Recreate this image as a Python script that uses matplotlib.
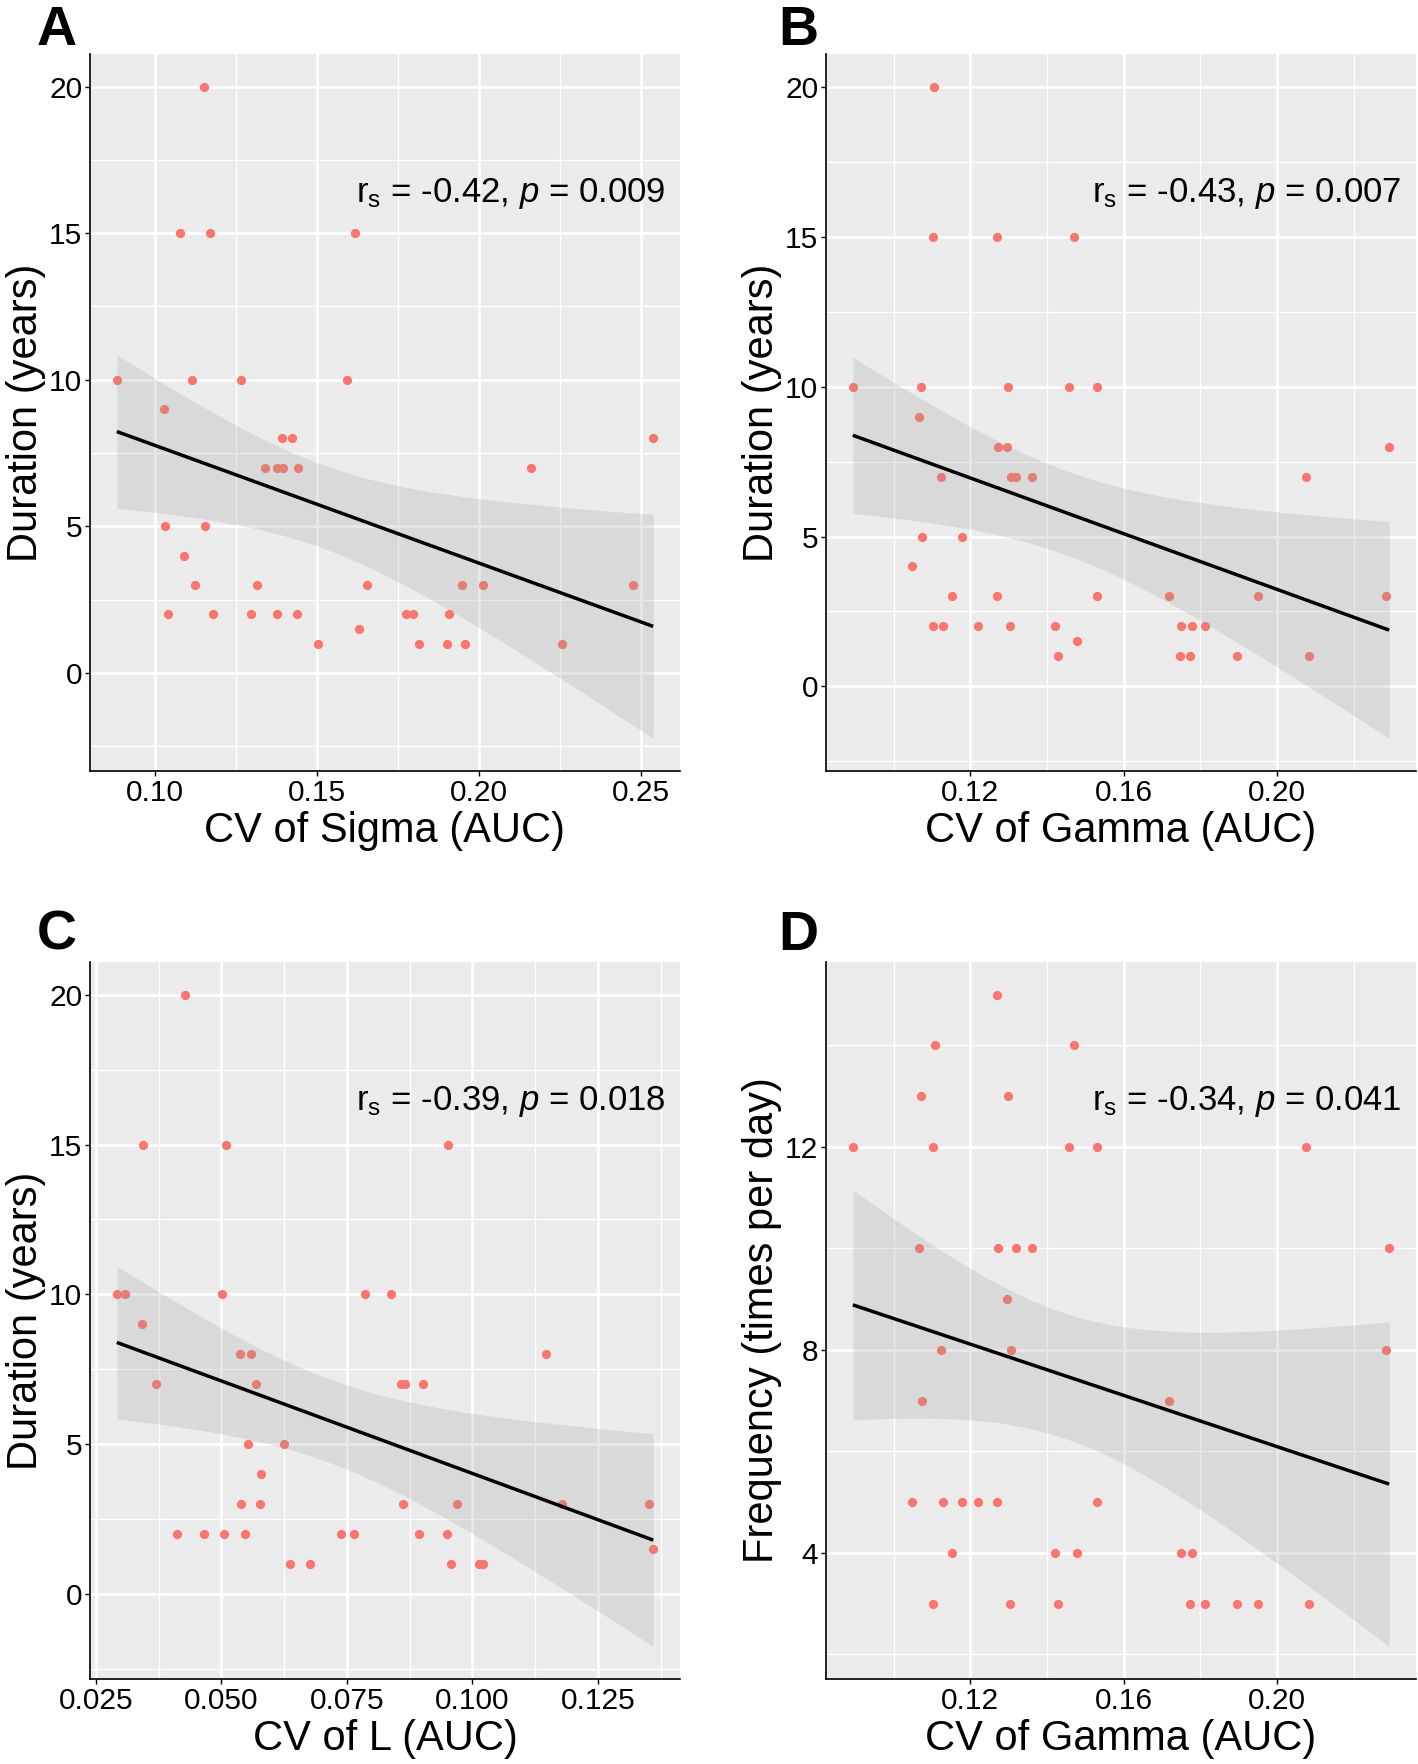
import numpy as np
import matplotlib
matplotlib.use("Agg")
import matplotlib.pyplot as plt
from matplotlib.ticker import MultipleLocator, FormatStrFormatter

# ---- values ----
# A: CV of Sigma (AUC) vs duration
sigma_cv = [0.1151, 0.1077, 0.1171, 0.1619, 0.0882, 0.1115, 0.1265, 0.1592, 0.1029,
            0.1391, 0.1423, 0.2539, 0.1339, 0.1377, 0.1395, 0.1441, 0.2162,
            0.1031, 0.1155, 0.1090, 0.1122, 0.1315, 0.1655, 0.1949, 0.2014, 0.2478,
            0.1041, 0.1179, 0.1297, 0.1377, 0.1440, 0.1774, 0.1798, 0.1909,
            0.1629, 0.1503, 0.1815, 0.1902, 0.1958, 0.2257]
sigma_dur = [20, 15, 15, 15, 10, 10, 10, 10, 9,
             8, 8, 8, 7, 7, 7, 7, 7,
             5, 5, 4, 3, 3, 3, 3, 3, 3,
             2, 2, 2, 2, 2, 2, 2, 2,
             1.5, 1, 1, 1, 1, 1]

# B: CV of Gamma (AUC) vs duration
gamma_cv = [0.1105, 0.1102, 0.1269, 0.1470, 0.0893, 0.1071, 0.1298, 0.1456, 0.1531, 0.1067,
            0.1272, 0.1295, 0.2293, 0.1123, 0.1307, 0.1320, 0.1360, 0.2075,
            0.1073, 0.1178, 0.1047, 0.1153, 0.1269, 0.1531, 0.1717, 0.1951, 0.2284,
            0.1102, 0.1128, 0.1220, 0.1303, 0.1420, 0.1749, 0.1779, 0.1811,
            0.1478, 0.1428, 0.1748, 0.1774, 0.1895, 0.2084]
gamma_dur = [20, 15, 15, 15, 10, 10, 10, 10, 10, 9,
             8, 8, 8, 7, 7, 7, 7, 7,
             5, 5, 4, 3, 3, 3, 3, 3, 3,
             2, 2, 2, 2, 2, 2, 2, 2,
             1.5, 1, 1, 1, 1, 1]

# C: CV of L (AUC) vs duration
l_cv = [0.0428, 0.0344, 0.0509, 0.0952, 0.0292, 0.0309, 0.0501, 0.0787, 0.0838, 0.0343,
        0.0538, 0.0560, 0.1147, 0.0370, 0.0570, 0.0857, 0.0865, 0.0901,
        0.0553, 0.0624, 0.0580, 0.0540, 0.0578, 0.0861, 0.0970, 0.1178, 0.1352,
        0.0412, 0.0466, 0.0505, 0.0548, 0.0738, 0.0765, 0.0894, 0.0949,
        0.1360, 0.0637, 0.0676, 0.0958, 0.1014, 0.1021]
l_dur = [20, 15, 15, 15, 10, 10, 10, 10, 10, 9,
         8, 8, 8, 7, 7, 7, 7, 7,
         5, 5, 4, 3, 3, 3, 3, 3, 3,
         2, 2, 2, 2, 2, 2, 2, 2,
         1.5, 1, 1, 1, 1, 1]

# D: CV of Gamma (AUC) vs frequency
freq_cv = [0.1269, 0.1107, 0.1470, 0.1071, 0.1298, 0.0893, 0.1102, 0.1456, 0.1531, 0.2075,
           0.1067, 0.1272, 0.1320, 0.1360, 0.2293, 0.1295,
           0.1123, 0.1307, 0.2284, 0.1073, 0.1717,
           0.1047, 0.1128, 0.1178, 0.1220, 0.1269, 0.1531,
           0.1153, 0.1420, 0.1478, 0.1749, 0.1779,
           0.1102, 0.1303, 0.1428, 0.1774, 0.1811, 0.1895, 0.1951, 0.2084]
freq = [15, 14, 14, 13, 13, 12, 12, 12, 12, 12,
        10, 10, 10, 10, 10, 9,
        8, 8, 8, 7, 7,
        5, 5, 5, 5, 5, 5,
        4, 4, 4, 4, 4,
        3, 3, 3, 3, 3, 3, 3, 3]

panel_letters = ["A", "B", "C", "D"]
x_labels = ["CV of Sigma (AUC)", "CV of Gamma (AUC)", "CV of L (AUC)", "CV of Gamma (AUC)"]
y_labels = ["Duration (years)", "Duration (years)", "Duration (years)", "Frequency (times per day)"]
rs_values = ["-0.42", "-0.43", "-0.39", "-0.34"]
p_values = ["0.009", "0.007", "0.018", "0.041"]

T95 = 2.023  # t quantile, df ~ 39

POINT_COL = "#F8766D"
PANEL_BG = "#EBEBEB"

plt.rcParams["font.family"] = ["Liberation Sans", "DejaVu Sans"]
plt.rcParams["mathtext.fontset"] = "custom"
plt.rcParams["mathtext.rm"] = "Liberation Sans"
plt.rcParams["mathtext.it"] = "Liberation Sans:italic"


def lm_band(x, y, n_grid=100):
    """Linear fit with 95% confidence band, like geom_smooth(method='lm')."""
    x = np.asarray(x, float)
    y = np.asarray(y, float)
    n = len(x)
    slope, icept = np.polyfit(x, y, 1)
    xs = np.linspace(x.min(), x.max(), n_grid)
    fit = icept + slope * xs
    resid = y - (icept + slope * x)
    s = np.sqrt(np.sum(resid ** 2) / (n - 2))
    se = s * np.sqrt(1 / n + (xs - x.mean()) ** 2 / np.sum((x - x.mean()) ** 2))
    return xs, fit, fit - T95 * se, fit + T95 * se


def padded(lo, hi, frac=0.05):
    span = hi - lo
    return lo - frac * span, hi + frac * span


W, H = 1418, 1764
fig = plt.figure(figsize=(W / 100, H / 100), dpi=100)


def px_rect(left, top, right, bottom):
    return [left / W, 1 - bottom / H, (right - left) / W, (bottom - top) / H]


layout = [
    dict(rect=(90, 54, 680, 771), letter=(37, 45), xmaj=0.05, xfmt="%.2f", ymaj=5),
    dict(rect=(826, 54, 1416, 771), letter=(778, 45), xmaj=0.04, xfmt="%.2f", ymaj=5),
    dict(rect=(90, 962, 680, 1679), letter=(37, 950), xmaj=0.025, xfmt="%.3f", ymaj=5),
    dict(rect=(826, 962, 1416, 1679), letter=(778, 950), xmaj=0.04, xfmt="%.2f", ymaj=4),
]
xs_all = [sigma_cv, gamma_cv, l_cv, freq_cv]
ys_all = [sigma_dur, gamma_dur, l_dur, freq]

for i in range(4):
    lay = layout[i]
    x = np.asarray(xs_all[i], float)
    y = np.asarray(ys_all[i], float)
    ax = fig.add_axes(px_rect(*lay["rect"]))
    ax.set_facecolor(PANEL_BG)

    # points first, then ribbon + line on top (ggplot layer order)
    ax.scatter(x, y, s=44, color=POINT_COL, linewidths=0, zorder=2)
    gx, fit, lo, hi = lm_band(x, y)
    ax.fill_between(gx, lo, hi, color="#999999", alpha=0.22, linewidth=0, zorder=3)
    ax.plot(gx, fit, color="black", lw=2.5, zorder=4, solid_capstyle="butt")

    ax.set_xlim(*padded(x.min(), x.max()))
    ax.set_ylim(*padded(min(y.min(), lo.min()), max(y.max(), hi.max())))

    ax.xaxis.set_major_locator(MultipleLocator(lay["xmaj"]))
    ax.xaxis.set_minor_locator(MultipleLocator(lay["xmaj"] / 2))
    ax.xaxis.set_major_formatter(FormatStrFormatter(lay["xfmt"]))
    ax.yaxis.set_major_locator(MultipleLocator(lay["ymaj"]))
    ax.yaxis.set_minor_locator(MultipleLocator(lay["ymaj"] / 2))
    ax.yaxis.set_major_formatter(FormatStrFormatter("%d"))

    ax.set_axisbelow(True)
    ax.grid(which="major", color="white", lw=1.9)
    ax.grid(which="minor", color="white", lw=0.95)

    for side in ["top", "right"]:
        ax.spines[side].set_visible(False)
    for side in ["left", "bottom"]:
        ax.spines[side].set_color("black")
        ax.spines[side].set_linewidth(1.2)

    ax.tick_params(which="major", length=3.5, width=1, color="black",
                   labelsize=21.5, labelcolor="black", pad=2)
    ax.tick_params(which="minor", length=0)

    ax.set_xlabel(x_labels[i], fontsize=30, labelpad=3)
    ax.set_ylabel(y_labels[i], fontsize=30, labelpad=2)

    ax.text(0.975, 0.793,
            r"$\mathrm{r_s}$ = " + rs_values[i] + r", $\mathit{p}$ = " + p_values[i],
            transform=ax.transAxes, ha="right", va="baseline", fontsize=25)

    lx, ly = lay["letter"]
    fig.text(lx / W, 1 - ly / H, panel_letters[i], fontsize=40, fontweight="bold",
             ha="left", va="baseline")

fig.savefig("out.png", dpi=100)
